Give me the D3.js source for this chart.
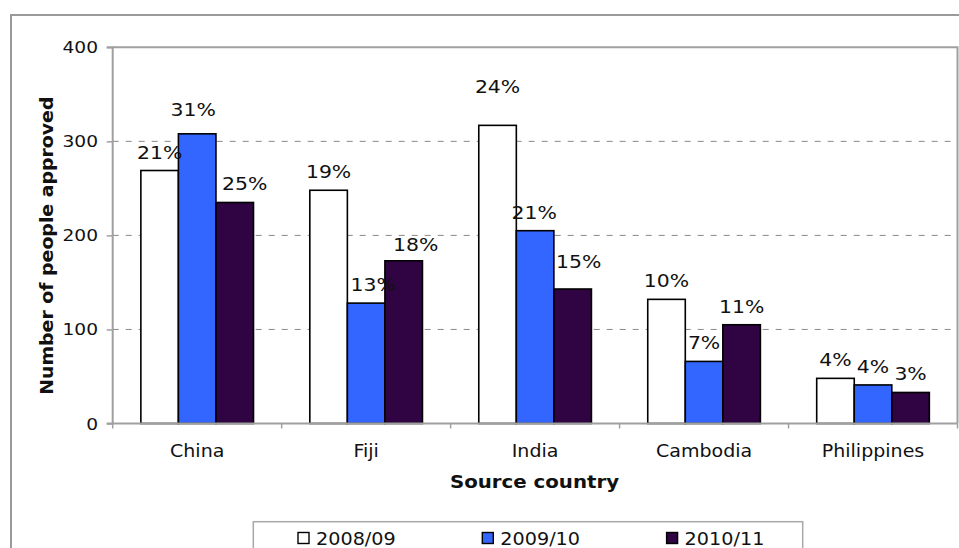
<!DOCTYPE html>
<html>
<head>
<meta charset="utf-8">
<script src="https://cdn.jsdelivr.net/npm/d3@7"></script>
<style>
  html, body { margin: 0; padding: 0; background: #fff; }
  svg { display: block; }
  text { font-family: "DejaVu Sans", Verdana, sans-serif; fill: #111; }
</style>
</head>
<body>
<svg id="chart" width="959" height="548"></svg>
<script>
// Approvals by source country, three programme years
const countries = ["China", "Fiji", "India", "Cambodia", "Philippines"];
const years = ["2008/09", "2009/10", "2010/11"];
const approved0809 = [269, 248, 317, 132, 48];
const approved0910 = [308, 128, 205, 66, 41];
const approved1011 = [235, 173, 143, 105, 33];
const share0809 = [21, 19, 24, 10, 4];
const share0910 = [31, 13, 21, 7, 4];
const share1011 = [25, 18, 15, 11, 3];
const yTicks = [0, 100, 200, 300, 400];

const seriesValues = [approved0809, approved0910, approved1011];
const seriesShares = [share0809, share0910, share1011];
const fills = ["#ffffff", "#3366ff", "#300442"];

// Small hand nudges for labels that would otherwise collide
const labelNudge = {
  "China|2009/10": [-4, -6],
  "China|2010/11": [10, 0],
  "Fiji|2009/10": [7, 0],
  "Fiji|2010/11": [12, 2],
  "India|2008/09": [0, -20],
  "India|2009/10": [-1, 0],
  "India|2010/11": [6, -9]
};

const rows = [];
countries.forEach((c, i) => {
  years.forEach((yr, s) => {
    rows.push({ country: c, year: yr, s, value: seriesValues[s][i], share: seriesShares[s][i] });
  });
});

const svg = d3.select("#chart");

const plot = { left: 112.7, right: 957.5, top: 47.3, bottom: 423.5 };

const x0 = d3.scaleBand().domain(countries).range([plot.left, plot.right]).paddingInner(0).paddingOuter(0);
const bw = x0.bandwidth();
const x1 = d3.scaleBand().domain(years).range([bw / 6, bw * 5 / 6]).padding(0);
const y = d3.scaleLinear().domain([0, 400]).range([plot.bottom, plot.top]);

// Outer chart frame
svg.append("rect")
  .attr("x", 11).attr("y", 15).attr("width", 980).attr("height", 560)
  .attr("fill", "#fff").attr("stroke", "#9a9a9a").attr("stroke-width", 2);

// Plot area frame (top and right)
svg.append("path")
  .attr("d", `M${plot.left},${plot.top}H${plot.right}V${plot.bottom}`)
  .attr("fill", "none").attr("stroke", "#a0a0a0").attr("stroke-width", 2);

// Gridlines
svg.append("g").selectAll("line")
  .data(yTicks.filter(t => t > 0 && t < 400))
  .join("line")
  .attr("x1", plot.left).attr("x2", plot.right)
  .attr("y1", d => y(d)).attr("y2", d => y(d))
  .attr("stroke", "#888").attr("stroke-width", 1)
  .attr("stroke-dasharray", "6,7");

function stretchedText(g, x, yy, str, size, stretch, weight, anchor) {
  return g.append("text")
    .attr("transform", `translate(${x},${yy}) scale(${stretch},1)`)
    .attr("text-anchor", anchor || "middle")
    .style("font-size", size + "px")
    .style("font-weight", weight || "normal")
    .text(str);
}

// Bars
const barG = svg.append("g");
barG.selectAll("rect")
  .data(rows)
  .join("rect")
  .attr("x", d => x0(d.country) + x1(d.year))
  .attr("y", d => y(d.value))
  .attr("width", x1.bandwidth())
  .attr("height", d => y(0) - y(d.value))
  .attr("fill", d => fills[d.s])
  .attr("stroke", "#000").attr("stroke-width", 1.6);

// Y axis
const yAxis = d3.axisLeft(y).tickValues(yTicks).tickSize(6).tickFormat("");
const yg = svg.append("g").attr("transform", `translate(${plot.left},0)`).call(yAxis);
yg.select(".domain").attr("stroke", "#a0a0a0").attr("stroke-width", 2).attr("d", `M-6,${plot.top}H0V${plot.bottom}H-6`);
yg.selectAll(".tick line").attr("stroke", "#a0a0a0").attr("stroke-width", 1.5);
yTicks.forEach(t => {
  stretchedText(svg, 98, y(t) + 6, d3.format("d")(t), 16.5, 1.13, "normal", "end");
});

// X axis
const xAxis = d3.axisBottom(x0).tickSize(0).tickFormat("");
const xg = svg.append("g").attr("transform", `translate(0,${plot.bottom})`).call(xAxis);
xg.select(".domain").attr("stroke", "#a0a0a0").attr("stroke-width", 2).attr("d", `M${plot.left},0H${plot.right}`);
xg.selectAll(".tick").remove();
const boundaries = countries.map(c => x0(c)).concat([plot.right]);
xg.selectAll("line.sep")
  .data(boundaries)
  .join("line")
  .attr("class", "sep")
  .attr("x1", d => d).attr("x2", d => d)
  .attr("y1", 0).attr("y2", 5)
  .attr("stroke", "#a0a0a0").attr("stroke-width", 1.5);
countries.forEach(c => {
  stretchedText(svg, x0(c) + bw / 2, 456.5, c, 17, 1.12, "normal", "middle");
});

// Value labels
rows.forEach(d => {
  const n = labelNudge[d.country + "|" + d.year] || [0, 0];
  const cx = x0(d.country) + x1(d.year) + x1.bandwidth() / 2 + n[0];
  const by = y(d.value) - 12 + n[1];
  stretchedText(svg, cx, by, d.share + "%", 17, 1.2, "normal", "middle");
});

// Axis titles
stretchedText(svg, 534.5, 488, "Source country", 17.5, 1.13, "bold", "middle");
svg.append("text")
  .attr("transform", `translate(53,245.7) rotate(-90) scale(1.05,1)`)
  .attr("text-anchor", "middle")
  .style("font-size", "18px")
  .style("font-weight", "bold")
  .text("Number of people approved");

// Legend
const legend = svg.append("g");
legend.append("rect")
  .attr("x", 253.3).attr("y", 521.7).attr("width", 549.4).attr("height", 60)
  .attr("fill", "#fff").attr("stroke", "#a8a8a8").attr("stroke-width", 1.5);
const legendStep = 184.3;
years.forEach((yr, s) => {
  const lx = 298 + s * legendStep;
  legend.append("rect")
    .attr("x", lx).attr("y", 532.5).attr("width", 11).attr("height", 11)
    .attr("fill", fills[s]).attr("stroke", "#000").attr("stroke-width", 1.4);
  stretchedText(legend, lx + 18, 544.5, yr, 17, 1.13, "normal", "start");
});
</script>
</body>
</html>
